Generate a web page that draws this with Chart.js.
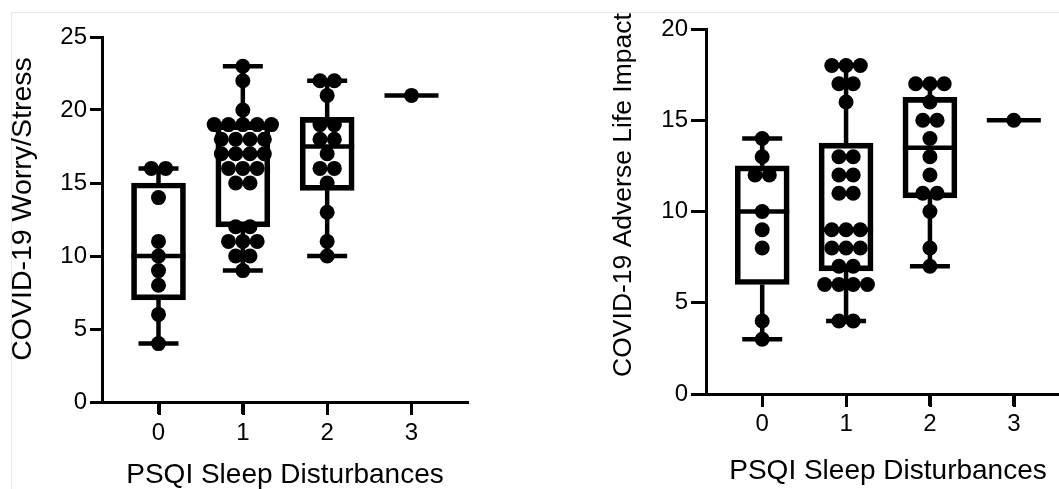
<!DOCTYPE html>
<html>
<head>
<meta charset="utf-8">
<script src="https://cdn.jsdelivr.net/npm/chart.js@4.4.0/dist/chart.umd.min.js"></script>
<style>
  html, body { margin: 0; padding: 0; background: #fff; width: 1059px; height: 489px; overflow: hidden; }
  #frame { position: absolute; left: 11px; top: 12px; width: 1100px; height: 500px;
           border-left: 1px solid #e6e6e6; border-top: 1px solid #e6e6e6; }
  #left { position: absolute; left: 0; top: 0; }
  #right { position: absolute; left: 530px; top: 0; }
</style>
</head>
<body>
<div id="frame"></div>
<canvas id="left" width="530" height="489"></canvas>
<canvas id="right" width="600" height="489"></canvas>
<script>
// shared x axis
const categories = [0, 1, 2, 3];
const xTickLabels = ['0', '1', '2', '3'];
const xTitle = 'PSQI Sleep Disturbances';

// left panel: worry / stress
const worryTitle = 'COVID-19 Worry/Stress';
const worryTicks = [0, 5, 10, 15, 20, 25];
const worryPoints = [
  [16, 16, 14, 11, 10, 9, 8, 6, 4],
  [23, 22, 20, 19, 19, 19, 19, 19, 18, 18, 18, 18, 17, 17, 17, 17, 16, 16, 16, 15, 15, 12, 12, 11, 11, 11, 10, 10, 9],
  [22, 22, 21, 19, 19, 18, 18, 17, 16, 16, 15, 13, 11, 10],
  [21]
];
const worryMin = [4, 9, 10, 21];
const worryQ1 = [7, 12, 14.5, 21];
const worryMedian = [10, 17, 17.5, 21];
const worryQ3 = [15, 19, 19.5, 21];
const worryMax = [16, 23, 22, 21];

// right panel: adverse life impact
const impactTitle = 'COVID-19 Adverse Life Impact';
const impactTicks = [0, 5, 10, 15, 20];
const impactPoints = [
  [14, 13, 12, 12, 10, 9, 8, 4, 3],
  [18, 18, 18, 17, 17, 16, 13, 13, 12, 12, 11, 11, 9, 9, 9, 8, 8, 8, 7, 7, 6, 6, 6, 6, 4, 4],
  [17, 17, 17, 16, 15, 15, 14, 13, 12, 11, 11, 10, 8, 7],
  [15]
];
const impactMin = [3, 4, 7, 15];
const impactQ1 = [6, 6.75, 10.75, 15];
const impactMedian = [10, 9, 13.5, 15];
const impactQ3 = [12.5, 13.75, 16.25, 15];
const impactMax = [14, 18, 17, 15];

Chart.defaults.font.family = "'Liberation Sans', Arial, Helvetica, sans-serif";
Chart.defaults.color = '#000';

// spread tied values side by side around the group centre
function spread(groups) {
  const out = [];
  groups.forEach((vals, g) => {
    const counts = {};
    vals.forEach(v => { counts[v] = (counts[v] || 0) + 1; });
    const seen = {};
    vals.forEach(v => {
      const k = seen[v] || 0;
      seen[v] = k + 1;
      out.push({ x: categories[g] + (k - (counts[v] - 1) / 2) * 0.17, y: v });
    });
  });
  return out;
}

const seg = (ctx, x1, y1, x2, y2) => { ctx.beginPath(); ctx.moveTo(x1, y1); ctx.lineTo(x2, y2); ctx.stroke(); };

// whiskers, caps and medians, under the box outlines and the dots
const boxPlugin = {
  id: 'boxes',
  beforeDatasetsDraw(chart, args, s) {
    const { ctx, scales: { x, y } } = chart;
    ctx.save();
    ctx.strokeStyle = '#000';
    ctx.lineWidth = 4.5;
    categories.forEach((c, i) => {
      const cx = x.getPixelForValue(c);
      const lo = y.getPixelForValue(s.min[i]);
      const hi = y.getPixelForValue(s.max[i]);
      const q1 = y.getPixelForValue(s.q1[i]);
      const q3 = y.getPixelForValue(s.q3[i]);
      const med = y.getPixelForValue(s.median[i]);
      if (s.max[i] > s.min[i]) {
        seg(ctx, cx, q1, cx, lo);
        seg(ctx, cx, q3, cx, hi);
        seg(ctx, cx - 20, lo, cx + 20, lo);
        seg(ctx, cx - 20, hi, cx + 20, hi);
      }
      seg(ctx, cx - 27, med, cx + 27, med);
    });
    ctx.restore();
  },
  afterDraw(chart) {
    // category tick marks under the x axis
    const { ctx, scales: { x }, chartArea } = chart;
    ctx.save();
    ctx.strokeStyle = '#000';
    ctx.lineWidth = 3;
    categories.forEach(c => {
      const px = Math.round(x.getPixelForValue(c)) + 0.5;
      seg(ctx, px, chartArea.bottom, px, chartArea.bottom + 13);
    });
    ctx.restore();
  }
};

const yTitlePlugin = {
  id: 'yTitle',
  afterDraw(chart, args, opts) {
    const ctx = chart.ctx;
    ctx.save();
    ctx.translate(opts.x, opts.y);
    ctx.rotate(-Math.PI / 2);
    ctx.font = opts.size + "px 'Liberation Sans', Arial, Helvetica, sans-serif";
    ctx.fillStyle = '#000';
    ctx.textAlign = 'center';
    ctx.textBaseline = 'middle';
    ctx.fillText(opts.text, 0, 0);
    ctx.restore();
  }
};

function makeChart(canvas, p) {
  const boxed = categories.filter((c, i) => p.q3[i] > p.q1[i]);
  return new Chart(canvas, {
    type: 'scatter',
    data: {
      datasets: [
        {
          type: 'scatter',
          data: spread(p.points),
          pointRadius: 7.5,
          pointHoverRadius: 7.5,
          backgroundColor: '#000',
          borderWidth: 0,
          clip: false,
          order: 0
        },
        {
          type: 'bar',
          data: boxed.map(c => ({ x: c, y: [p.q1[categories.indexOf(c)], p.q3[categories.indexOf(c)]] })),
          barThickness: 54,
          borderWidth: 5,
          borderColor: '#000',
          backgroundColor: 'rgba(0,0,0,0)',
          borderSkipped: false,
          clip: false,
          order: 1
        }
      ]
    },
    options: {
      responsive: false,
      animation: false,
      events: [],
      layout: { padding: { top: p.top, right: p.right, left: 0, bottom: 0 } },
      plugins: {
        legend: { display: false },
        tooltip: { enabled: false },
        boxes: { min: p.min, q1: p.q1, median: p.median, q3: p.q3, max: p.max },
        yTitle: { text: p.yTitle, x: p.yTitleX, y: p.yTitleY, size: p.yTitleSize }
      },
      scales: {
        x: {
          type: 'linear',
          min: -0.67,
          max: 3.67,
          offset: false,
          afterBuildTicks: s => { s.ticks = categories.map(v => ({ value: v })); },
          afterFit: s => { s.height = p.xHeight; },
          ticks: {
            font: { size: 24 },
            padding: p.xPad,
            maxRotation: 0,
            callback: v => xTickLabels[categories.indexOf(v)]
          },
          grid: { offset: false, drawOnChartArea: false, tickLength: 12, tickWidth: 3, tickColor: '#000' },
          border: { color: '#000', width: 3 },
          title: {
            display: true,
            text: xTitle,
            font: { size: 28, lineHeight: 1 },
            padding: { top: 0, bottom: p.xTitlePad }
          }
        },
        y: {
          type: 'linear',
          min: 0,
          max: p.yMax,
          afterBuildTicks: s => { s.ticks = p.yTicks.map(v => ({ value: v })); },
          afterFit: s => { s.width = p.yWidth; },
          ticks: { font: { size: 24 }, padding: 3 },
          grid: { drawOnChartArea: false, tickLength: p.yTickLen, tickWidth: 3, tickColor: '#000' },
          border: { color: '#000', width: 3 }
        }
      }
    },
    plugins: [boxPlugin, yTitlePlugin]
  });
}

makeChart(document.getElementById('left'), {
  points: worryPoints, min: worryMin, q1: worryQ1, median: worryMedian, q3: worryQ3, max: worryMax,
  yMax: 25, yTicks: worryTicks, yTitle: worryTitle, yTitleX: 23, yTitleY: 209, yTitleSize: 28.5,
  top: 37, right: 62, yWidth: 102, xHeight: 87, xPad: 5, xTitlePad: 0, yTickLen: 12
});

makeChart(document.getElementById('right'), {
  points: impactPoints, min: impactMin, q1: impactQ1, median: impactMedian, q3: impactQ3, max: impactMax,
  yMax: 20, yTicks: impactTicks, yTitle: impactTitle, yTitleX: 94, yTitleY: 195, yTitleSize: 26.5,
  top: 29, right: 60, yWidth: 176, xHeight: 95, xPad: 4, xTitlePad: 4, yTickLen: 15
});
</script>
</body>
</html>
